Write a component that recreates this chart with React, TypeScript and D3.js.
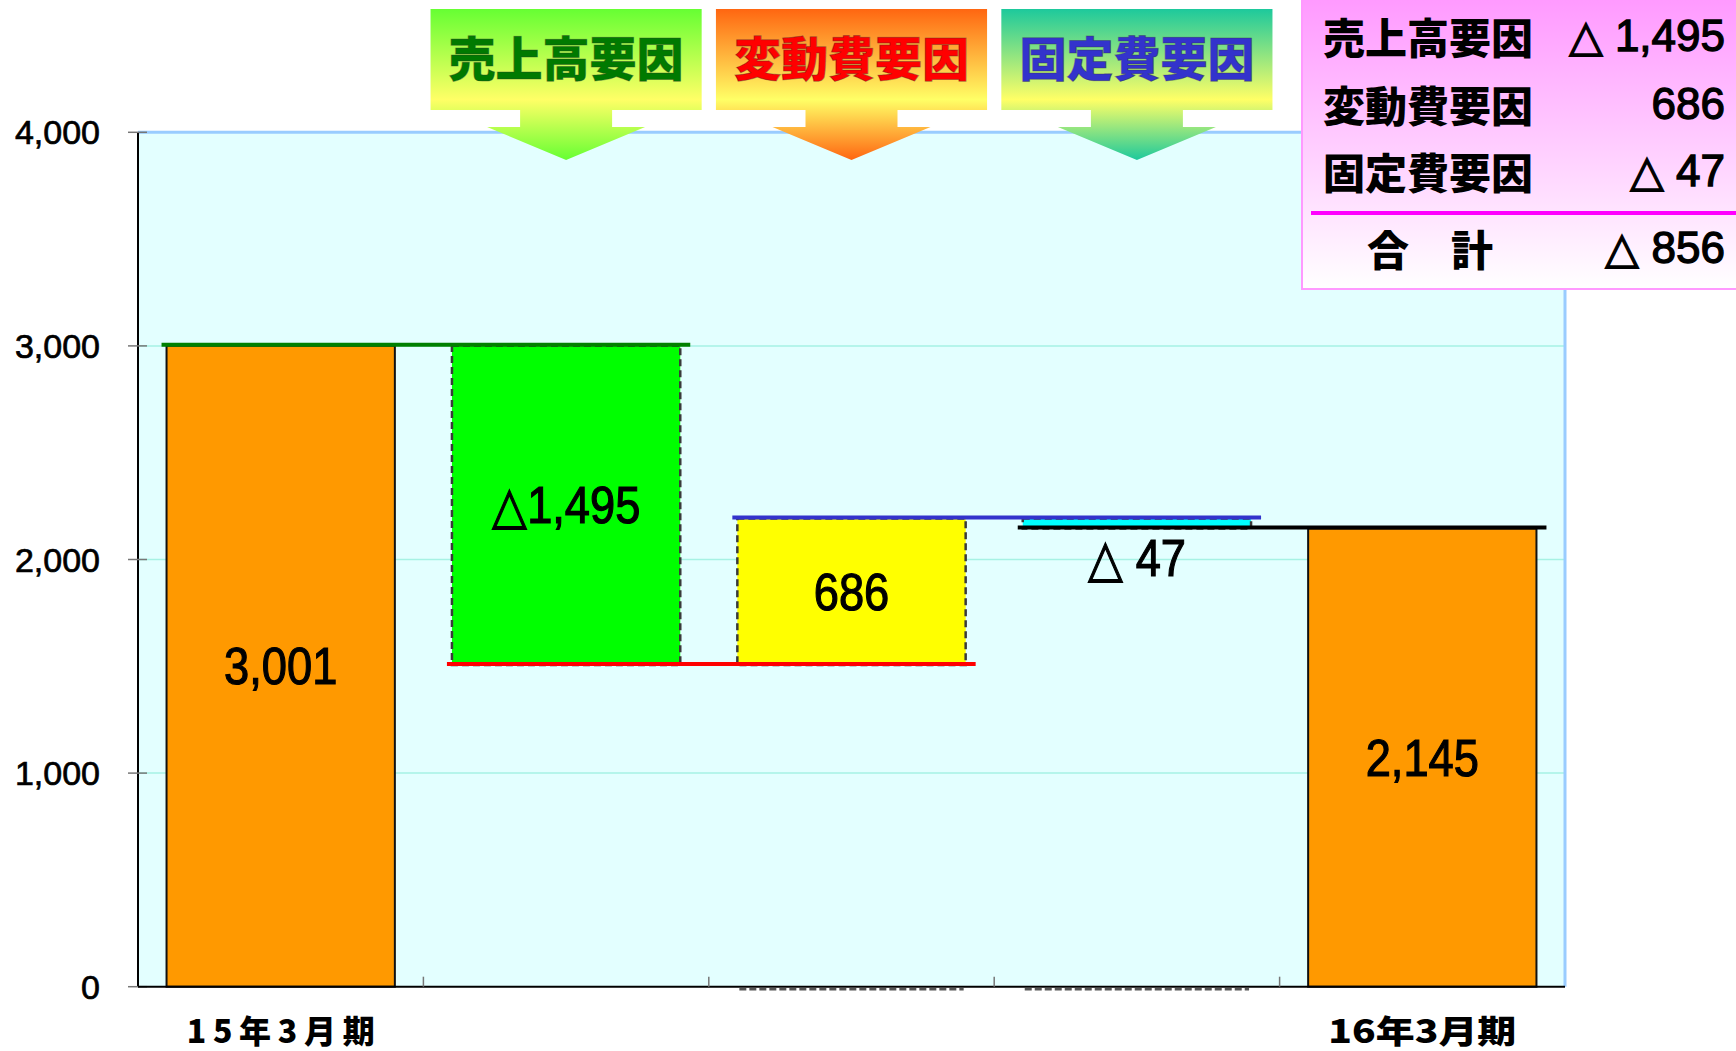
import * as d3 from "d3";

const axisLabels = ["15年3月期", "", "", "", "16年3月期"];
const startValue = 3001;
const factorNames = ["売上高要因", "変動費要因", "固定費要因"];
const factorChanges = [-1495, 686, -47];
const endValue = 2145;
const barLabels = ["3,001", "△1,495", "686", "△ 47", "2,145"];
const yTicks = [0, 1000, 2000, 3000, 4000];

const summaryValues = ["△ 1,495", "686", "△ 47"];
const totalLabel = "合　計";
const totalValue = "△ 856";

const factorFills = ["#00FF00", "#FFFF00", "#00FFFF"];
const connectorColors = ["#008000", "#FF0000", "#3333CC", "#000000"];
const bannerTextColors = ["#007A00", "#FF0000", "#3333CC"];
const bannerTopColors = ["#66FF33", "#FF6611", "#1DC99C"];

const width = 1736;
const height = 1051;
const plotLeft = 138;
const plotRight = 1565;
const plotTop = 132.3;
const plotBottom = 986.7;

const cjk = "'Noto Sans CJK JP', 'Noto Sans', sans-serif";
const latin = "'Liberation Sans', Arial, sans-serif";

export default function App() {
    const idx = d3.range(axisLabels.length);
    const x = d3
        .scaleBand<number>()
        .domain(idx)
        .range([plotLeft, plotRight])
        .paddingInner(0.2)
        .paddingOuter(0.1);
    const y = d3.scaleLinear([0, 4000], [plotBottom, plotTop]);
    const step = x.step();
    const bw = x.bandwidth();
    const fmt = d3.format(",");

    // waterfall pieces
    const bars: { lo: number; hi: number; fill: string; dashed: boolean; level: number }[] = [];
    bars.push({ lo: 0, hi: startValue, fill: "#FF9900", dashed: false, level: startValue });
    let running = startValue;
    factorChanges.forEach((c, i) => {
        const next = running + c;
        bars.push({
            lo: Math.min(running, next),
            hi: Math.max(running, next),
            fill: factorFills[i],
            dashed: true,
            level: next,
        });
        running = next;
    });
    bars.push({ lo: 0, hi: endValue, fill: "#FF9900", dashed: false, level: endValue });

    return (
        <svg
            width={width}
            height={height}
            style={{ position: "absolute", left: 0, top: 0, background: "#fff" }}
        >
            <defs>
                {bannerTopColors.map((c, i) => (
                    <linearGradient
                        key={i}
                        id={`bn${i}`}
                        gradientUnits="userSpaceOnUse"
                        x1="0"
                        x2="0"
                        y1="9"
                        y2="160"
                    >
                        <stop offset="0" stopColor={c} />
                        <stop offset="0.6" stopColor="#FFFF66" />
                        <stop offset="1" stopColor={c} />
                    </linearGradient>
                ))}
                <linearGradient id="sumg" x1="0" x2="0" y1="0" y2="1">
                    <stop offset="0" stopColor="#FF99FF" />
                    <stop offset="1" stopColor="#FFFFFF" />
                </linearGradient>
            </defs>

            {/* plot area */}
            <rect
                x={plotLeft}
                y={plotTop}
                width={plotRight - plotLeft}
                height={plotBottom - plotTop}
                fill="#E3FFFF"
            />
            {yTicks.slice(1, -1).map((t) => (
                <line
                    key={t}
                    x1={plotLeft}
                    x2={plotRight}
                    y1={y(t)}
                    y2={y(t)}
                    stroke="#A6F2E4"
                    strokeWidth={1.5}
                />
            ))}
            <line x1={plotLeft} x2={plotRight} y1={plotTop} y2={plotTop} stroke="#99CCFF" strokeWidth={3} />
            <line x1={plotRight} x2={plotRight} y1={plotTop} y2={plotBottom} stroke="#99CCFF" strokeWidth={3} />

            {/* bars */}
            {bars.map((b, i) => (
                <rect
                    key={i}
                    x={x(i)}
                    y={y(b.hi)}
                    width={bw}
                    height={y(b.lo) - y(b.hi)}
                    fill={b.fill}
                    stroke={b.dashed ? "#3A3A3A" : "#111"}
                    strokeWidth={b.dashed ? 2.5 : 2}
                    strokeDasharray={b.dashed ? "7 4" : undefined}
                />
            ))}
            {[2, 3].map((i) => (
                <line
                    key={i}
                    x1={(x(i) as number) + 2}
                    x2={(x(i) as number) + bw - 2}
                    y1={y(0) + 2.5}
                    y2={y(0) + 2.5}
                    stroke="#555"
                    strokeWidth={2.5}
                    strokeDasharray="7 3"
                />
            ))}

            {/* connector lines */}
            {connectorColors.map((c, k) => (
                <line
                    key={k}
                    x1={(x(k) as number) - 5}
                    x2={(x(k + 1) as number) + bw + 10}
                    y1={y(bars[k].level) - 1}
                    y2={y(bars[k].level) - 1}
                    stroke={c}
                    strokeWidth={4}
                />
            ))}

            {/* bar labels */}
            {bars.map((b, i) => {
                const cx = (x(i) as number) + bw / 2;
                const small = y(b.lo) - y(b.hi) < 40;
                const cy = small ? y(b.lo) + 29 : (y(b.lo) + y(b.hi)) / 2;
                return (
                    <text
                        key={i}
                        transform={`translate(${cx},${cy}) scale(0.87,1)`}
                        textAnchor="middle"
                        dominantBaseline="central"
                        fontFamily={latin}
                        fontSize={52}
                        fill="#000"
                        stroke="#000"
                        strokeWidth={1.2}
                    >
                        {barLabels[i]}
                    </text>
                );
            })}

            {/* y axis */}
            <line x1={plotLeft} x2={plotLeft} y1={plotTop} y2={plotBottom} stroke="#000" strokeWidth={2} />
            {yTicks.map((t) => (
                <g key={t}>
                    <line x1={128} x2={147} y1={y(t)} y2={y(t)} stroke="#777" strokeWidth={1.5} />
                    <text
                        x={100}
                        y={y(t)}
                        textAnchor="end"
                        dominantBaseline="central"
                        fontFamily={latin}
                        fontSize={34}
                        fill="#000"
                        stroke="#000"
                        strokeWidth={0.7}
                    >
                        {fmt(t)}
                    </text>
                </g>
            ))}

            {/* x axis */}
            <line x1={plotLeft} x2={plotRight} y1={plotBottom} y2={plotBottom} stroke="#000" strokeWidth={2} />
            {idx.slice(1).map((i) => (
                <line
                    key={i}
                    x1={(x(i) as number) - (step - bw) / 2}
                    x2={(x(i) as number) - (step - bw) / 2}
                    y1={plotBottom}
                    y2={plotBottom - 10}
                    stroke="#777"
                    strokeWidth={1.5}
                />
            ))}
            {axisLabels.map((l, i) =>
                l ? (
                    <text
                        key={i}
                        x={(x(i) as number) + bw / 2}
                        y={1029}
                        textAnchor="middle"
                        dominantBaseline="central"
                        fontFamily={cjk}
                        fontWeight={900}
                        fontSize={32}
                        textLength={188}
                        lengthAdjust={i === 0 ? "spacing" : "spacingAndGlyphs"}
                        fill="#000"
                    >
                        {l}
                    </text>
                ) : null
            )}

            {/* factor banners */}
            {factorNames.map((n, i) => {
                const cx = (x(i + 1) as number) + bw / 2;
                const hw = step * 0.475;
                const d = `M${cx - hw},9 H${cx + hw} V110 H${cx + 46} V127 H${cx + 79} L${cx},160 L${cx - 79},127 H${cx - 46} V110 H${cx - hw} Z`;
                return (
                    <g key={n}>
                        <path d={d} fill={`url(#bn${i})`} />
                        <text
                            x={cx}
                            y={55}
                            textAnchor="middle"
                            dominantBaseline="central"
                            fontFamily={cjk}
                            fontWeight={900}
                            fontSize={47}
                            fill={bannerTextColors[i]}
                            stroke="#333"
                            strokeOpacity={0.35}
                            strokeWidth={1}
                        >
                            {n}
                        </text>
                    </g>
                );
            })}

            {/* summary box */}
            <rect x={1302} y={-3} width={440} height={292} fill="url(#sumg)" stroke="#FF99FF" strokeWidth={2} />
            <line x1={1311} x2={1736} y1={213} y2={213} stroke="#FF00FF" strokeWidth={4} />
            {factorNames.map((n, i) => {
                const cy = [35, 103, 170][i];
                return (
                    <g key={n}>
                        <text
                            x={1323}
                            y={cy}
                            dominantBaseline="central"
                            fontFamily={cjk}
                            fontWeight={900}
                            fontSize={42}
                            fill="#000"
                        >
                            {n}
                        </text>
                        <text
                            x={1725}
                            y={cy}
                            textAnchor="end"
                            dominantBaseline="central"
                            fontFamily={latin}
                            fontSize={44}
                            fill="#000"
                            stroke="#000"
                            strokeWidth={1.3}
                        >
                            {summaryValues[i]}
                        </text>
                    </g>
                );
            })}
            <text
                x={1367}
                y={247}
                dominantBaseline="central"
                fontFamily={cjk}
                fontWeight={900}
                fontSize={42}
                fill="#000"
            >
                {totalLabel}
            </text>
            <text
                x={1725}
                y={247}
                textAnchor="end"
                dominantBaseline="central"
                fontFamily={latin}
                fontSize={44}
                fill="#000"
                stroke="#000"
                strokeWidth={1.3}
            >
                {totalValue}
            </text>
        </svg>
    );
}
